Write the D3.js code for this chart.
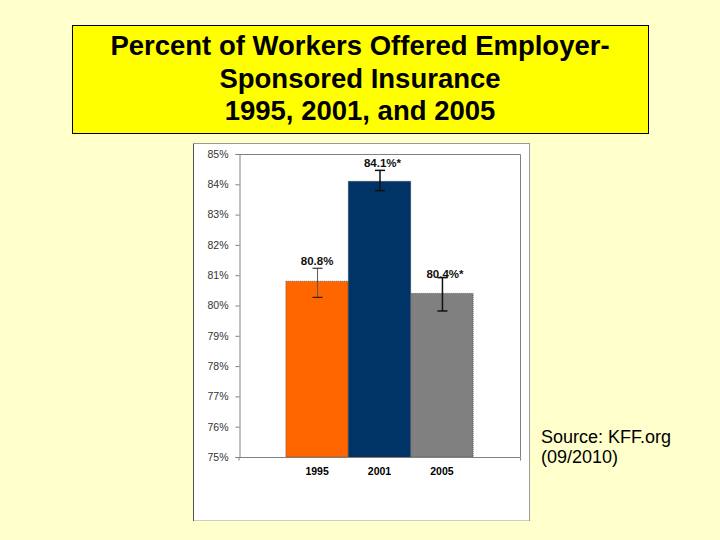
<!DOCTYPE html>
<html>
<head>
<meta charset="utf-8">
<script src="https://cdn.jsdelivr.net/npm/d3@7"></script>
<style>
  body { margin: 0; background: #FFFFCC; }
  svg { display: block; font-family: Arial, "Liberation Sans", sans-serif; }
</style>
</head>
<body>
<script>
// chart data
var years = ["1995", "2001", "2005"];
var values = [80.8, 84.1, 80.4];
var errLow = [80.27, 83.79, 79.82];
var errHigh = [81.23, 84.46, 80.92];
var valueLabels = ["80.8%", "84.1%*", "80.4%*"];
var barColors = ["#FF6600", "#003366", "#808080"];
var yTicks = [75, 76, 77, 78, 79, 80, 81, 82, 83, 84, 85];
var titleLines = ["Percent of Workers Offered Employer-", "Sponsored Insurance", "1995, 2001, and 2005"];
var sourceLines = ["Source: KFF.org", "(09/2010)"];

var w = 720;
var h = 540;

var svg = d3.select("body")
  .append("svg")
  .attr("width", w)
  .attr("height", h);

svg.append("rect")
  .attr("width", w).attr("height", h)
  .attr("fill", "#FFFFCC");

// title box
svg.append("rect")
  .attr("x", 72.5).attr("y", 25.5)
  .attr("width", 576).attr("height", 108)
  .attr("fill", "#FFFF00")
  .attr("stroke", "#000")
  .attr("stroke-width", 1);

svg.selectAll(".title")
  .data(titleLines)
  .enter()
  .append("text")
  .attr("class", "title")
  .attr("x", 360)
  .attr("y", function(d, i) { return 55 + i * 32.5; })
  .attr("text-anchor", "middle")
  .style("font-size", "27.5px")
  .style("font-weight", "bold")
  .text(function(d) { return d; });

// white chart panel
svg.append("rect")
  .attr("x", 193.5).attr("y", 143.5)
  .attr("width", 336).attr("height", 377)
  .attr("fill", "#fff")
  .attr("stroke", "#9a9a9a")
  .attr("stroke-dasharray", "1,1");
svg.append("line")
  .attr("x1", 193.5).attr("x2", 193.5)
  .attr("y1", 143).attr("y2", 521)
  .attr("stroke", "#555");
svg.append("line")
  .attr("x1", 193).attr("x2", 530)
  .attr("y1", 143.5).attr("y2", 143.5)
  .attr("stroke", "#999");
svg.append("line")
  .attr("x1", 529.5).attr("x2", 529.5)
  .attr("y1", 143).attr("y2", 521)
  .attr("stroke", "#999");

// plot area
var plotLeft = 239, plotRight = 520, plotTop = 154, plotBottom = 457;

var x_scale = d3.scaleBand()
  .domain(years)
  .range([plotLeft, plotRight])
  .paddingInner(0)
  .paddingOuter(0.75);

var y_scale = d3.scaleLinear()
  .domain([75, 85])
  .range([plotBottom, plotTop]);

// plot border (top & right)
svg.append("path")
  .attr("d", "M" + plotLeft + "," + (plotTop + 0.5) + "H" + (plotRight + 0.5) + "V" + plotBottom)
  .attr("fill", "none")
  .attr("stroke", "#808080");

// bars
svg.selectAll(".bar")
  .data(years)
  .enter()
  .append("rect")
  .attr("class", "bar")
  .attr("x", function(d) { return x_scale(d); })
  .attr("y", function(d, i) { return y_scale(values[i]); })
  .attr("width", x_scale.bandwidth())
  .attr("height", function(d, i) { return plotBottom - y_scale(values[i]); })
  .attr("fill", function(d, i) { return barColors[i]; })
  .attr("stroke", "#333")
  .attr("stroke-width", 0.6)
  .attr("stroke-dasharray", "1,1");

// y axis
var y_axis = d3.axisLeft(y_scale)
  .tickValues(yTicks)
  .tickSize(4)
  .tickPadding(7)
  .tickFormat(function(d) { return d + "%"; });

var gy = svg.append("g")
  .attr("transform", "translate(" + (plotLeft + 0.5) + ",0)")
  .call(y_axis);
gy.select(".domain").attr("stroke", "#808080");
gy.selectAll(".tick line").attr("stroke", "#808080");
gy.selectAll(".tick text")
  .attr("fill", "#333")
  .style("font-size", "10.5px")
  .style("font-family", "Arial, 'Liberation Sans', sans-serif");

// x axis
var x_axis = d3.axisBottom(x_scale)
  .tickSize(0)
  .tickPadding(10);

var gx = svg.append("g")
  .attr("transform", "translate(0," + (plotBottom + 0.5) + ")")
  .call(x_axis);
gx.select(".domain").attr("stroke", "#808080").attr("d", "M" + plotLeft + ",3V0H" + (plotRight + 0.5) + "V3");
gx.selectAll(".tick text")
  .attr("fill", "#000")
  .style("font-size", "10.5px")
  .style("font-weight", "bold")
  .style("font-family", "Arial, 'Liberation Sans', sans-serif");

// error bars
var cx = function(i) { return x_scale(years[i]) + x_scale.bandwidth() / 2 + 0.5; };
var err = svg.selectAll(".err")
  .data(years)
  .enter()
  .append("g")
  .attr("class", "err");
err.append("line")
  .attr("x1", function(d, i) { return cx(i); })
  .attr("x2", function(d, i) { return cx(i); })
  .attr("y1", function(d, i) { return y_scale(errHigh[i]); })
  .attr("y2", function(d, i) { return y_scale(errLow[i]); })
  .attr("stroke", function(d, i) { return i === 0 ? "#555" : "#111"; })
  .attr("stroke-width", function(d, i) { return i === 0 ? 1 : 1.5; });
err.append("line")
  .attr("x1", function(d, i) { return cx(i) - 5; })
  .attr("x2", function(d, i) { return cx(i) + 5; })
  .attr("y1", function(d, i) { return y_scale(errHigh[i]); })
  .attr("y2", function(d, i) { return y_scale(errHigh[i]); })
  .attr("stroke", "#111")
  .attr("stroke-width", function(d, i) { return i === 0 ? 1 : 1.5; });
err.append("line")
  .attr("x1", function(d, i) { return cx(i) - 5; })
  .attr("x2", function(d, i) { return cx(i) + 5; })
  .attr("y1", function(d, i) { return y_scale(errLow[i]); })
  .attr("y2", function(d, i) { return y_scale(errLow[i]); })
  .attr("stroke", "#111")
  .attr("stroke-width", function(d, i) { return i === 0 ? 1 : 1.5; });

// value labels (last one sits right on its error cap, as in the original)
var labelGap = [3, 3, 0];
svg.selectAll(".vlab")
  .data(valueLabels)
  .enter()
  .append("text")
  .attr("class", "vlab")
  .attr("x", function(d, i) { return x_scale(years[i]) + x_scale.bandwidth() / 2 + (i === 0 ? 0 : 3); })
  .attr("y", function(d, i) { return y_scale(errHigh[i]) - labelGap[i]; })
  .attr("text-anchor", "middle")
  .attr("fill", "#111")
  .style("font-size", "11.5px")
  .style("font-weight", "bold")
  .text(function(d) { return d; });

// source note
svg.selectAll(".src")
  .data(sourceLines)
  .enter()
  .append("text")
  .attr("class", "src")
  .attr("x", 541)
  .attr("y", function(d, i) { return 443 + i * 20; })
  .style("font-size", "18px")
  .text(function(d) { return d; });
</script>
</body>
</html>
